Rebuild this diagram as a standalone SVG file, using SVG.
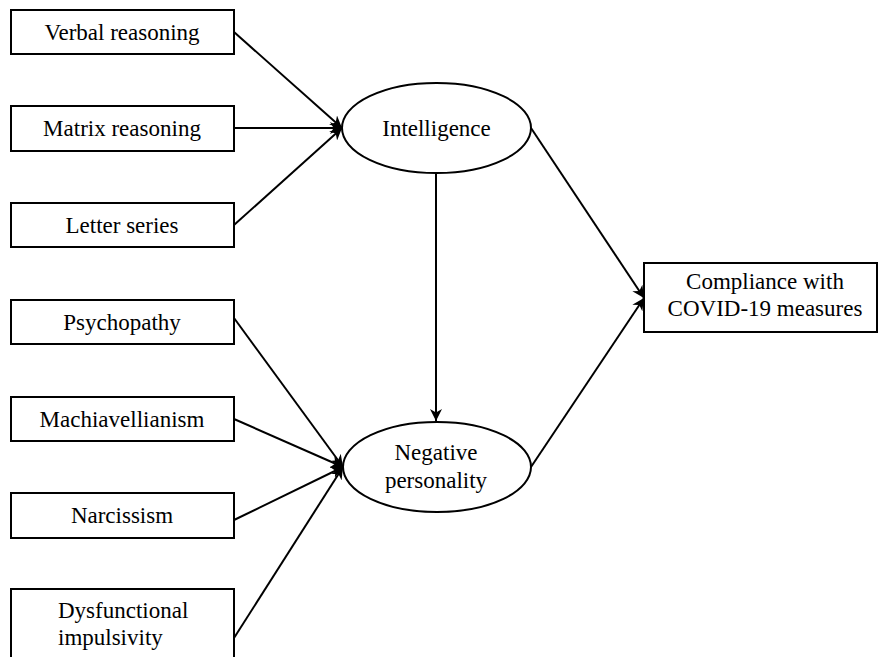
<svg xmlns="http://www.w3.org/2000/svg" width="879" height="657" viewBox="0 0 879 657">
<style>
.box{fill:#fff;stroke:#000;stroke-width:2}
.ell{fill:#fff;stroke:#000;stroke-width:2}
text{font-family:"Liberation Serif","Times New Roman",serif;font-size:23px;fill:#000;text-anchor:middle}
.edge{stroke:#000;stroke-width:2;fill:none;marker-end:url(#ah)}
</style>
<defs>
<marker id="ah" viewBox="0 0 10 10" refX="10" refY="5" markerWidth="6" markerHeight="6" orient="auto" markerUnits="strokeWidth">
<path d="M0,0 L10,5 L0,10 L3,5 Z" fill="#000"/>
</marker>
</defs>
<g id="connectors">
<line class="edge" x1="234" y1="32" x2="342" y2="128"/>
<line class="edge" x1="234" y1="128" x2="342" y2="128"/>
<line class="edge" x1="234" y1="225" x2="342" y2="128"/>
<line class="edge" x1="234" y1="318" x2="343" y2="467"/>
<line class="edge" x1="234" y1="419" x2="343" y2="467"/>
<line class="edge" x1="234" y1="520" x2="343" y2="467"/>
<line class="edge" x1="234" y1="638" x2="343" y2="467"/>
<line class="edge" x1="436" y1="173" x2="436" y2="421"/>
<line class="edge" x1="531" y1="128" x2="644" y2="298"/>
<line class="edge" x1="531" y1="467" x2="644" y2="298"/>
</g>
<g id="verbal"><rect class="box" x="11" y="10" width="223" height="44"/><text x="122" y="40">Verbal reasoning</text></g>
<g id="matrix"><rect class="box" x="11" y="106" width="223" height="45"/><text x="122" y="136">Matrix reasoning</text></g>
<g id="letter"><rect class="box" x="11" y="203" width="223" height="44"/><text x="122" y="233">Letter series</text></g>
<g id="psychopathy"><rect class="box" x="11" y="300" width="223" height="44"/><text x="122" y="330">Psychopathy</text></g>
<g id="machiavellianism"><rect class="box" x="11" y="397" width="223" height="44"/><text x="122" y="427">Machiavellianism</text></g>
<g id="narcissism"><rect class="box" x="11" y="493" width="223" height="45"/><text x="122" y="523">Narcissism</text></g>
<g id="dysfunctional"><rect class="box" x="11" y="589" width="223" height="80"/><text x="58" y="618" style="text-anchor:start">Dysfunctional</text><text x="58" y="645" style="text-anchor:start">impulsivity</text></g>
<g id="intelligence"><ellipse class="ell" cx="436.5" cy="128" rx="94.5" ry="45"/><text x="436.5" y="136">Intelligence</text></g>
<g id="negative"><ellipse class="ell" cx="437" cy="467" rx="94" ry="45"/><text x="436" y="460">Negative</text><text x="436" y="488">personality</text></g>
<g id="compliance"><rect class="box" x="644" y="263" width="233" height="69"/><text x="765" y="289">Compliance with</text><text x="765" y="316">COVID-19 measures</text></g>
</svg>
